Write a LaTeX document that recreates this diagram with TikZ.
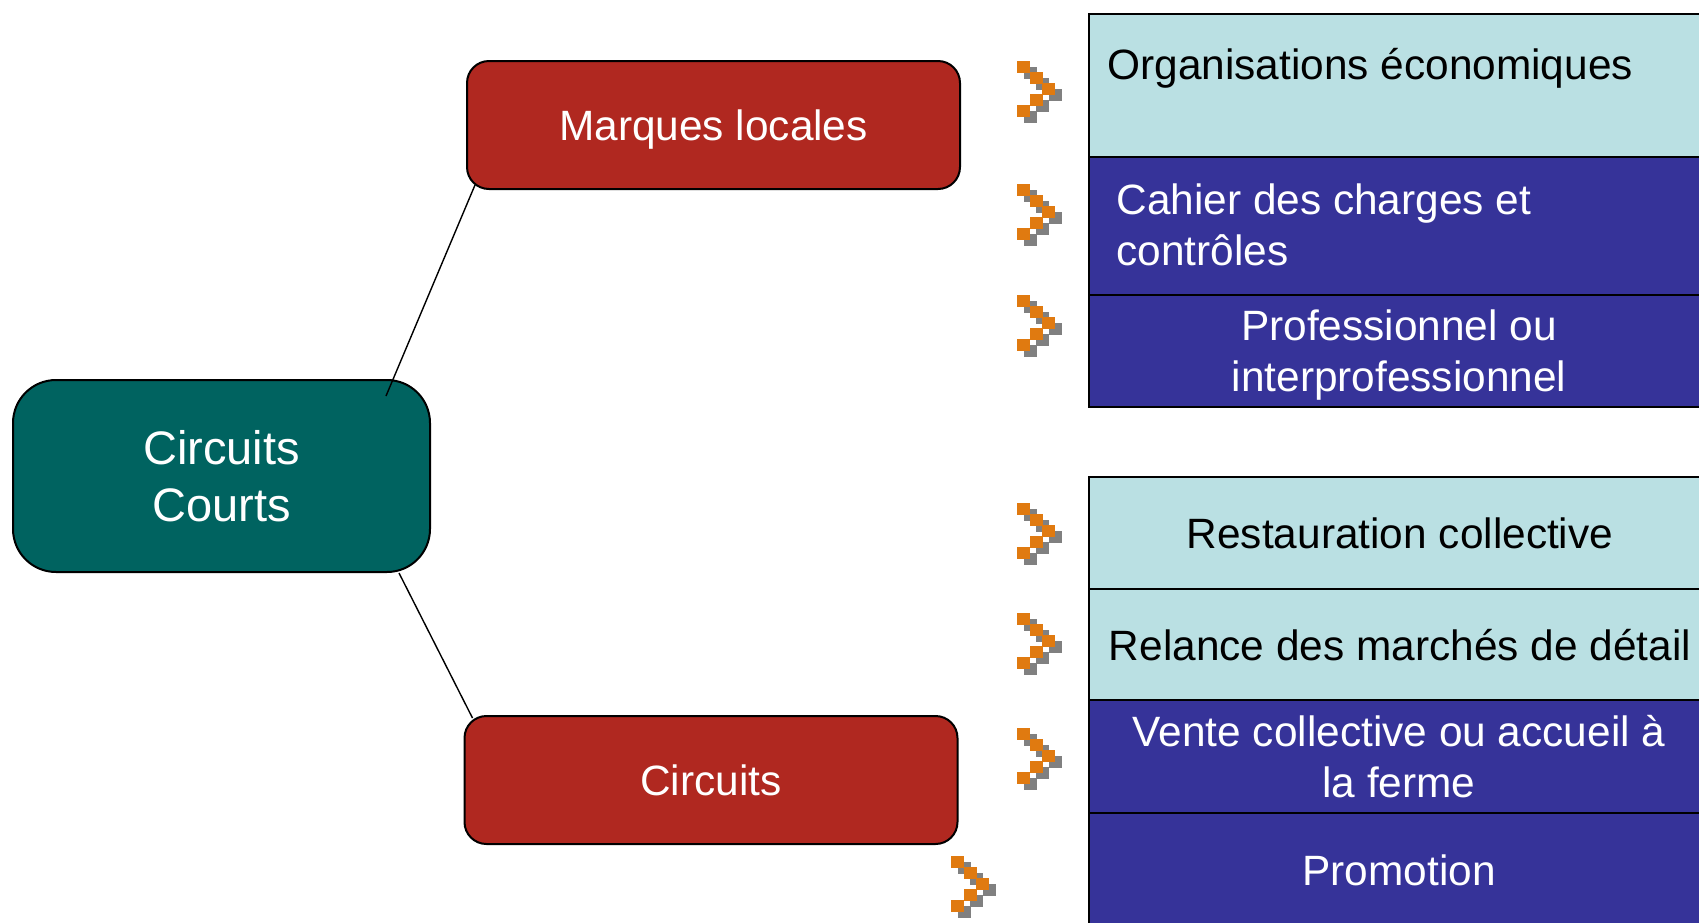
\documentclass[tikz,border=0pt]{standalone}
\usepackage{fontspec}
\setmainfont{Liberation Sans}
\usetikzlibrary{calc}
\definecolor{tealc}{RGB}{0,99,96}
\definecolor{redc}{RGB}{176,40,32}
\definecolor{litec}{RGB}{186,224,227}
\definecolor{bluec}{RGB}{54,51,153}
\definecolor{orangec}{RGB}{224,122,16}
\definecolor{grayc}{RGB}{128,128,128}
\tikzset{
  chev/.pic={
    \foreach \a/\b in {0/0,12.5/11,25/22,12.5/33,0/44}
      {\fill[grayc] (\a+6.5,\b+6) rectangle ++(13,11.5);}
    \foreach \a/\b in {0/0,12.5/11,25/22,12.5/33,0/44}
      {\fill[orangec] (\a,\b) rectangle ++(13,11.5);}
  }
}
\begin{document}
\begin{tikzpicture}[x=0.5pt,y=-0.5pt,
  bigfont/.style={font=\fontsize{21.2pt}{25.5pt}\selectfont},
  rbox/.style={draw=black, line width=1pt, rounded corners=11pt, fill=redc,
    text=white, bigfont, inner sep=0pt, text depth=0pt, minimum width=246.5pt, minimum height=64pt},
  ccbox/.style={draw=black, line width=1pt, rounded corners=21.5pt, fill=tealc,
    text=white, font=\fontsize{23.5pt}{28.7pt}\selectfont, align=center, inner sep=0pt,
    minimum width=208.5pt, minimum height=96pt},
  row/.style={draw=black, line width=1pt, anchor=north west, minimum width=311pt, inner sep=0pt},
  lite/.style={row, fill=litec},
  dark/.style={row, fill=bluec},
  txtb/.style={bigfont, inner sep=0pt, text=black},
  txtw/.style={bigfont, inner sep=0pt, text=white},
  link/.style={draw=black, line width=0.7pt}
]
\useasboundingbox (0,0) rectangle (1699,922);
\clip (0,0) rectangle (1699,922);

% left boxes
\node[ccbox] (cc) at (221.5,476) {Circuits\\Courts};
\node[rbox] (ml) at (713.5,125) {Marques locales};
\node[rbox] (ci) at (711,780) {Circuits};
\draw[link] ($(cc.north east)+(-45,17)$) -- ($(ml.south west)+(9,-5)$);
\draw[link] ($(cc.south east)+(-32,0)$) -- ($(ci.north west)+(9,3)$);

% top table
\node[lite, minimum height=71.5pt] (r1) at (1088,13) {};
\node[dark, minimum height=69pt] (r2) at (1088,156) {};
\node[dark, minimum height=56pt] (r3) at (1088,294) {};
\node[txtb, anchor=west] (t1) at (1107,68) {Organisations économiques};
\node[txtw, anchor=west, align=left] (t2) at (1116,225) {Cahier des charges et\\contrôles};
\node[txtw, align=center] (t3) at (1399,355) {Professionnel ou\\interprofessionnel};

% bottom table
\node[lite, minimum height=56pt] (s1) at (1088,476) {};
\node[lite, minimum height=55.5pt] (s2) at (1088,588) {};
\node[dark, minimum height=56.5pt] (s3) at (1088,699) {};
\node[dark, minimum height=64pt] (s4) at (1088,812) {};
\node[txtb] (u1) at (1400,533) {Restauration collective};
\node[txtb] (u2) at (1400,645) {Relance des marchés de détail};
\node[txtw, align=center] (u3) at (1399,757) {Vente collective ou accueil à\\la ferme};
\node[txtw] (u4) at (1399,870) {Promotion};

% chevrons
\pic (c1) at (1017,61) {chev};
\pic (c2) at (1017,184) {chev};
\pic (c3) at (1017,295) {chev};
\pic (c4) at (1017,503) {chev};
\pic (c5) at (1017,613) {chev};
\pic (c6) at (1017,728) {chev};
\pic (c7) at (951,856) {chev};
\end{tikzpicture}
\end{document}
